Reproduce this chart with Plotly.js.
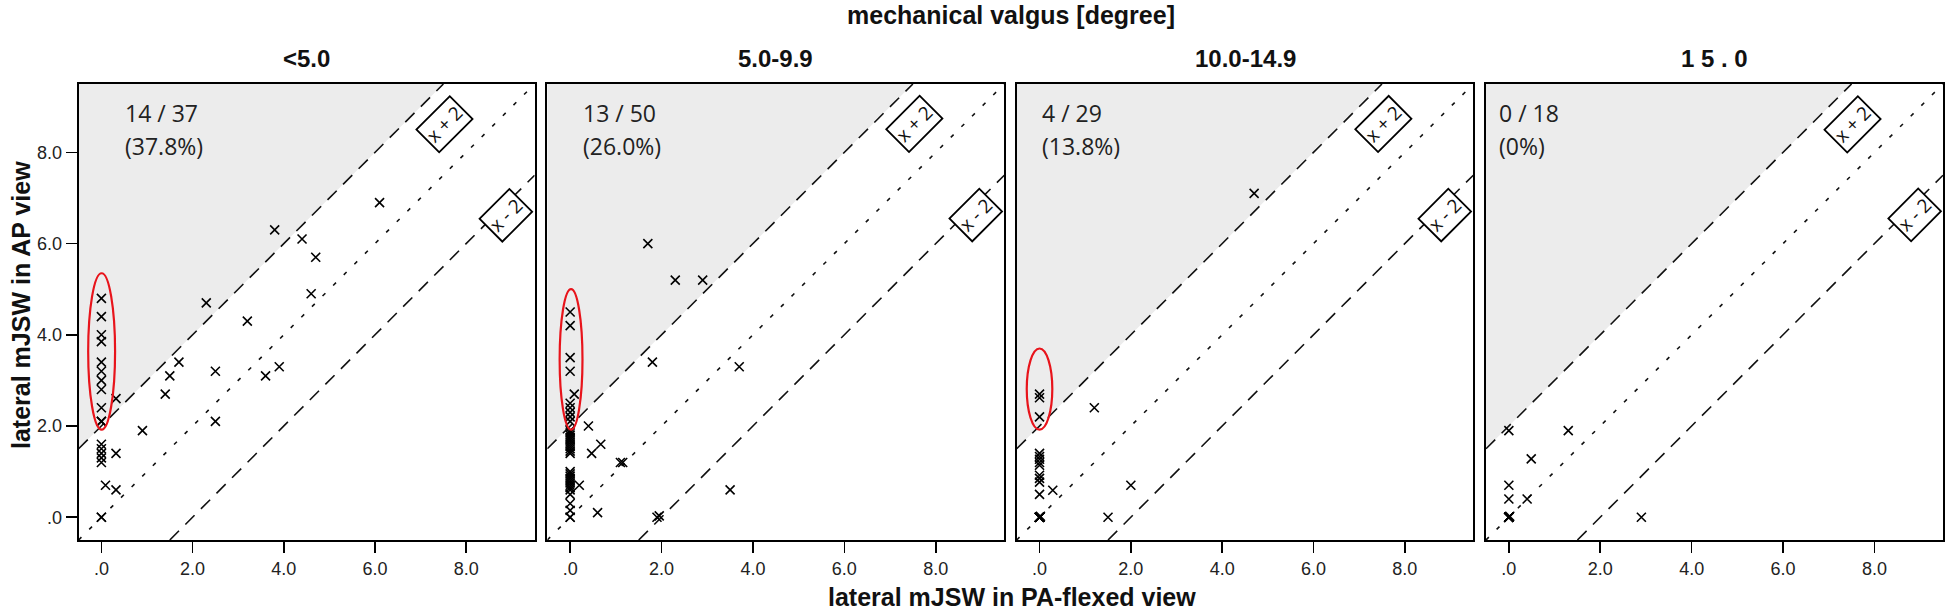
<!DOCTYPE html>
<html>
<head>
<meta charset="utf-8">
<script src="https://cdn.plot.ly/plotly-3.0.1.min.js"></script>
<style>
html, body { margin: 0; padding: 0; background: #ffffff; }
#chart { width: 1946px; height: 611px; }
</style>
</head>
<body>
<div id="chart"></div>
<script>
// ---------------- data ----------------
const mainTitle = "mechanical valgus [degree]";
const xTitle = "lateral mJSW in PA-flexed view";
const yTitle = "lateral mJSW in AP view";
const panelTitles = ["&lt;5.0", "5.0-9.9", "10.0-14.9", "1 5 . 0"];
const countLabels = ["14 / 37", "13 / 50", "4 / 29", "0 / 18"];
const pctLabels = ["(37.8%)", "(26.0%)", "(13.8%)", "(0%)"];
const tickVals = [0, 2, 4, 6, 8];
const tickText = [".0", "2.0", "4.0", "6.0", "8.0"];
const lineOffsets = [2, 0, -2];
const lineLabels = ["x + 2", "", "x - 2"];

// panel 1: <5.0
const p1X = [0, 0, 0, 0, 0, 0, 0, 0, 0, 0, 0, 0.32, 0, 0, 0, 0, 0, 0.32, 0.09, 0.32, 0, 0,
             0.9, 1.4, 1.5, 1.7, 2.3, 2.5, 2.5, 3.2, 3.8, 3.6, 3.9, 4.4, 4.7, 4.6, 6.1];
const p1Y = [4.8, 4.4, 4.0, 3.85, 3.4, 3.2, 3.0, 2.8, 2.4, 2.1, 2.1, 2.6, 1.6, 1.5, 1.4, 1.3, 1.2, 1.4, 0.7, 0.6, 0, 0,
             1.9, 2.7, 3.1, 3.4, 4.7, 3.2, 2.1, 4.3, 6.3, 3.1, 3.3, 6.1, 5.7, 4.9, 6.9];

// panel 2: 5.0-9.9
const p2X = [0, 0, 0, 0, 0.09, 0, 0, 0, 0, 0, 1.7, 2.3, 2.9,
             0, 0, 0, 0, 0, 0, 0, 0, 0, 0, 0,
             0, 0, 0, 0, 0, 0, 0, 0, 0,
             0, 0, 0, 0, 0,
             0.4, 0.67, 0.47, 1.1, 1.15, 0.2, 0.6, 1.9, 1.95, 3.5, 1.8, 3.7];
const p2Y = [4.5, 4.2, 3.5, 3.2, 2.7, 2.5, 2.4, 2.3, 2.2, 2.1, 6.0, 5.2, 5.2,
             1.9, 1.85, 1.8, 1.75, 1.7, 1.65, 1.6, 1.55, 1.5, 1.45, 1.4,
             1.0, 0.95, 0.9, 0.85, 0.8, 0.75, 0.7, 0.65, 0.6,
             0.5, 0.3, 0.15, 0, 0,
             2.0, 1.6, 1.4, 1.2, 1.2, 0.7, 0.1, 0, 0.03, 0.6, 3.4, 3.3];

// panel 3: 10.0-14.9
const p3X = [0, 0, 0, 4.7,
             1.2, 0.29, 2.0, 1.5,
             0, 0, 0, 0, 0,
             0, 0, 0, 0,
             0, 0, 0, 0, 0, 0, 0, 0, 0, 0, 0, 0.02];
const p3Y = [2.7, 2.62, 2.2, 7.1,
             2.4, 0.59, 0.7, 0,
             1.4, 1.33, 1.27, 1.2, 1.14,
             0.92, 0.85, 0.77, 0.5,
             0, 0, 0, 0, 0, 0, 0, 0, 0, 0, 0, 0.02];

// panel 4: 15.0
const p4X = [0, 1.3, 0.49, 0, 0, 0.4, 2.9,
             0, 0, 0, 0, 0, 0, 0, 0, 0, 0, 0.02];
const p4Y = [1.9, 1.9, 1.28, 0.7, 0.4, 0.4, 0,
             0, 0, 0, 0, 0, 0, 0, 0, 0, 0, 0.02];

const panelX = [p1X, p2X, p3X, p4X];
const panelY = [p1Y, p2Y, p3Y, p4Y];

// ---------------- layout constants ----------------
const W = 1946, H = 611;
const axRange = [-0.5, 9.5];
const xPix = [[78.6, 534.6], [547.3, 1004.3], [1016.7, 1473.3], [1486, 1943]];
const xDomains = xPix.map(d => [d[0] / W, d[1] / W]);
const yDomain = [1 - 540 / H, 1 - 84 / H];
const labelX = [0.47, 0.235, 0.0, -0.26];
const ellipses = [[-0.29, 0.30, 1.92, 5.35], [-0.23, 0.27, 1.92, 5.0], [-0.28, 0.28, 1.92, 3.70], null];
const boxPos = [[7.53, 8.62], null, [8.88, 6.62]];

const tickFont = { family: "Liberation Sans, Arial, sans-serif", size: 18, color: "#222" };
const boldFont = (s) => ({ family: "Liberation Sans, Arial, sans-serif", size: s, color: "#111", weight: "bold" });
const noteFont = { family: "Open Sans, Noto Sans, sans-serif", size: 23, color: "#222" };

const traces = [];
const shapes = [];
const annotations = [];
const layout = {
  width: W, height: H,
  margin: { l: 0, r: 0, t: 0, b: 0 },
  paper_bgcolor: "#ffffff",
  plot_bgcolor: "#ffffff",
  showlegend: false,
  title: {
    text: mainTitle, font: boldFont(25),
    x: 1011 / W, xanchor: "center", xref: "paper",
    y: 1 - 15 / H, yanchor: "middle", yref: "paper"
  }
};

for (let k = 0; k < 4; k++) {
  const sx = k === 0 ? "" : String(k + 1);
  const xa = "x" + sx, ya = "y" + sx;
  layout["xaxis" + sx] = {
    domain: xDomains[k], range: axRange, anchor: ya,
    tickvals: tickVals, ticktext: tickText, tickfont: tickFont,
    ticks: "outside", ticklen: 11, tickwidth: 1.6, tickcolor: "#000",
    showline: true, linecolor: "#000", linewidth: 2, mirror: true,
    showgrid: false, zeroline: false, fixedrange: true
  };
  layout["yaxis" + sx] = {
    domain: yDomain, range: axRange, anchor: xa,
    tickvals: tickVals, ticktext: tickText, tickfont: tickFont,
    ticks: k === 0 ? "outside" : "", ticklen: 11, tickwidth: 1.6, tickcolor: "#000",
    showticklabels: k === 0,
    showline: true, linecolor: "#000", linewidth: 2, mirror: true,
    showgrid: false, zeroline: false, fixedrange: true
  };

  // shaded region above y = x + 2
  const off = lineOffsets[0];
  traces.push({
    type: "scatter", mode: "lines", xaxis: xa, yaxis: ya,
    x: [axRange[0], axRange[1] - off, axRange[0], axRange[0]],
    y: [axRange[0] + off, axRange[1], axRange[1], axRange[0] + off],
    fill: "toself", fillcolor: "#ececec", line: { width: 0 }, hoverinfo: "skip"
  });

  // reference lines
  lineOffsets.forEach((c) => {
    const x0 = Math.max(axRange[0], axRange[0] - c);
    const x1 = Math.min(axRange[1], axRange[1] - c);
    traces.push({
      type: "scatter", mode: "lines", xaxis: xa, yaxis: ya,
      x: [x0, x1], y: [x0 + c, x1 + c],
      line: { color: "#111", width: 1.6, dash: c === 0 ? "4px,11px" : "13px,9px" },
      hoverinfo: "skip"
    });
  });

  // points
  traces.push({
    type: "scatter", mode: "markers", xaxis: xa, yaxis: ya,
    x: panelX[k], y: panelY[k],
    marker: { symbol: "x-thin", size: 9, color: "#000", line: { width: 1.6, color: "#000" } },
    cliponaxis: false
  });

  // panel title
  annotations.push({
    xref: "paper", yref: "paper",
    x: (xDomains[k][0] + xDomains[k][1]) / 2, y: 1 - 58 / H,
    text: panelTitles[k], showarrow: false, xanchor: "center", yanchor: "middle",
    font: boldFont(24)
  });

  // count labels
  annotations.push({
    xref: xa, yref: ya, x: labelX[k], y: 8.87, text: countLabels[k],
    showarrow: false, xanchor: "left", yanchor: "middle", font: noteFont
  });
  annotations.push({
    xref: xa, yref: ya, x: labelX[k], y: 8.13, text: pctLabels[k],
    showarrow: false, xanchor: "left", yanchor: "middle", font: noteFont
  });

  // line label boxes
  lineLabels.forEach((t, i) => {
    if (!t) return;
    annotations.push({
      xref: xa, yref: ya, x: boxPos[i][0], y: boxPos[i][1], text: t,
      showarrow: false, xanchor: "center", yanchor: "middle", textangle: -45,
      font: { family: "Open Sans, Noto Sans, sans-serif", size: 19, color: "#111" },
      bgcolor: "#ffffff", bordercolor: "#000", borderwidth: 1.8, borderpad: 2
    });
  });

  // red ellipse
  if (ellipses[k]) {
    const e = ellipses[k];
    shapes.push({
      type: "circle", xref: xa, yref: ya, x0: e[0], x1: e[1], y0: e[2], y1: e[3],
      line: { color: "#e8141b", width: 2.2 }, layer: "above"
    });
  }
}

// global axis titles
annotations.push({
  xref: "paper", yref: "paper", x: 1012 / W, y: 1 - 597 / H,
  text: xTitle, showarrow: false, xanchor: "center", yanchor: "middle", font: boldFont(25)
});
annotations.push({
  xref: "paper", yref: "paper", x: 21 / W, y: 1 - 305 / H,
  text: yTitle, showarrow: false, xanchor: "center", yanchor: "middle", textangle: -90,
  font: boldFont(25)
});

layout.shapes = shapes;
layout.annotations = annotations;

Plotly.newPlot("chart", traces, layout, { displayModeBar: false, staticPlot: true });
</script>
</body>
</html>
